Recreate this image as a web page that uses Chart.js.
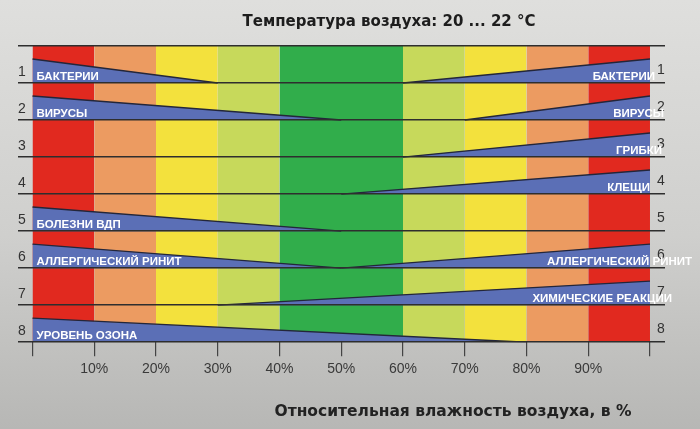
<!DOCTYPE html>
<html>
<head>
<meta charset="utf-8">
<script src="https://cdn.jsdelivr.net/npm/chart.js@4.4.1/dist/chart.umd.min.js"></script>
<style>
  html, body { margin: 0; padding: 0; }
  body {
    width: 700px;
    height: 429px;
    background: linear-gradient(to bottom, #dfdfdd 0%, #cfcfcd 55%, #b7b7b5 100%);
    overflow: hidden;
  }
  #wrap { position: relative; width: 700px; height: 429px; }
</style>
</head>
<body>
<div id="wrap"><canvas id="humidityChart" width="700" height="429"></canvas></div>
<script>
// данные
const humidityTicks = [0, 10, 20, 30, 40, 50, 60, 70, 80, 90, 100];
const zoneEdges = [0, 10, 20, 30, 40, 60, 70, 80, 90, 100];
const rowNumbers = [1, 2, 3, 4, 5, 6, 7, 8];

// риск при сухом воздухе: название и влажность, где он пропадает
const leftRisks = ["БАКТЕРИИ", "ВИРУСЫ", null, null, "БОЛЕЗНИ ВДП", "АЛЛЕРГИЧЕСКИЙ РИНИТ", null, "УРОВЕНЬ ОЗОНА"];
const leftRiskEnd = [30, 50, null, null, 50, 50, null, 80];

// риск при влажном воздухе: название и влажность, где он начинается
const rightRisks = ["БАКТЕРИИ", "ВИРУСЫ", "ГРИБКИ", "КЛЕЩИ", null, "АЛЛЕРГИЧЕСКИЙ РИНИТ", "ХИМИЧЕСКИЕ РЕАКЦИИ", null];
const rightRiskStart = [60, 70, 60, 50, null, 50, 30, null];

const riskPeak = 0.65; // высота клина в долях строки

const titleText = "Температура воздуха: 20 ... 22 °C";
const axisTitleText = "Относительная влажность воздуха, в %";

// оформление
const zoneColors = ["#e1291f", "#ec9b61", "#f3e13d", "#c7d95b", "#31ad4b", "#c7d95b", "#f3e13d", "#ec9b61", "#e1291f"];
const wedgeColor = "#5b6fb6";
const wedgeEdge = "#23263a";
const rightLabelNudge = [5, 14, 12, 0, 0, 42, 22, 0];

const rowCount = rowNumbers.length;
const rowBottom = (i) => rowCount - 1 - i;

const datasets = [];

zoneColors.forEach((color, j) => {
  datasets.push({
    order: 2,
    data: [{ x: zoneEdges[j], y: rowCount }, { x: zoneEdges[j + 1], y: rowCount }],
    fill: { value: 0 },
    backgroundColor: color,
    borderWidth: 0,
    pointRadius: 0,
  });
});

rowNumbers.forEach((n, i) => {
  const b = rowBottom(i);
  if (leftRiskEnd[i] !== null) {
    datasets.push({
      order: 1,
      data: [{ x: 0, y: b + riskPeak }, { x: leftRiskEnd[i], y: b }],
      fill: { value: b },
      backgroundColor: wedgeColor,
      borderColor: wedgeEdge,
      borderWidth: 1.4,
      pointRadius: 0,
    });
  }
  if (rightRiskStart[i] !== null) {
    datasets.push({
      order: 1,
      data: [{ x: rightRiskStart[i], y: b }, { x: 100, y: b + riskPeak }],
      fill: { value: b },
      backgroundColor: wedgeColor,
      borderColor: wedgeEdge,
      borderWidth: 1.4,
      pointRadius: 0,
    });
  }
});

const textPlugin = {
  id: "chartTexts",
  afterDraw(chart) {
    const { ctx, scales } = chart;
    const x = scales.x;
    const y = scales.y;
    ctx.save();

    // заголовок
    ctx.fillStyle = "#1d1d1d";
    ctx.font = "bold 15px 'DejaVu Sans', sans-serif";
    ctx.textAlign = "center";
    ctx.textBaseline = "middle";
    ctx.fillText(titleText, 389, 22);

    // подпись оси
    ctx.font = "bold 15.5px 'DejaVu Sans', sans-serif";
    ctx.fillStyle = "#222";
    ctx.fillText(axisTitleText, 453, 412);

    // номера строк
    ctx.font = "14px 'Liberation Sans', Arial, sans-serif";
    ctx.fillStyle = "#333";
    rowNumbers.forEach((n, i) => {
      const py = y.getPixelForValue(rowBottom(i)) - 11;
      ctx.fillText(String(n), 22, py);
      ctx.fillText(String(n), 661, py - 2);
    });

    // названия рисков
    ctx.font = "bold 11.5px 'Liberation Sans', Arial, sans-serif";
    ctx.fillStyle = "#ffffff";
    rowNumbers.forEach((n, i) => {
      const py = y.getPixelForValue(rowBottom(i)) - 6;
      if (leftRisks[i]) {
        ctx.textAlign = "left";
        ctx.fillText(leftRisks[i], x.getPixelForValue(0) + 4, py);
      }
      if (rightRisks[i]) {
        ctx.textAlign = "right";
        ctx.fillText(rightRisks[i], x.getPixelForValue(100) + rightLabelNudge[i], py);
      }
    });
    ctx.restore();
  },
};

new Chart(document.getElementById("humidityChart"), {
  type: "line",
  data: { datasets: datasets },
  options: {
    responsive: false,
    animation: false,
    events: [],
    layout: { padding: { left: 18, right: 35, top: 46, bottom: 46 } },
    plugins: { legend: { display: false }, tooltip: { enabled: false } },
    scales: {
      x: {
        type: "linear",
        min: -2.35,
        max: 102.43,
        afterBuildTicks: (scale) => {
          scale.ticks = humidityTicks.map((v) => ({ value: v }));
        },
        ticks: {
          color: "#3a3a3a",
          padding: 5,
          maxRotation: 0,
          autoSkip: false,
          font: { family: "'Liberation Sans', Arial, sans-serif", size: 14 },
          callback: (v) => (v > 0 && v < 100 ? v + "%" : ""),
        },
        grid: { drawOnChartArea: false, drawTicks: true, tickLength: 14, color: "#444", lineWidth: 1.2 },
        border: { display: false },
      },
      y: {
        min: 0,
        max: rowCount,
        ticks: { display: false, stepSize: 1 },
        grid: { color: "#2e2e2e", lineWidth: 1.5, drawTicks: false, z: 1 },
        border: { display: false },
      },
    },
  },
  plugins: [textPlugin],
});
</script>
</body>
</html>
